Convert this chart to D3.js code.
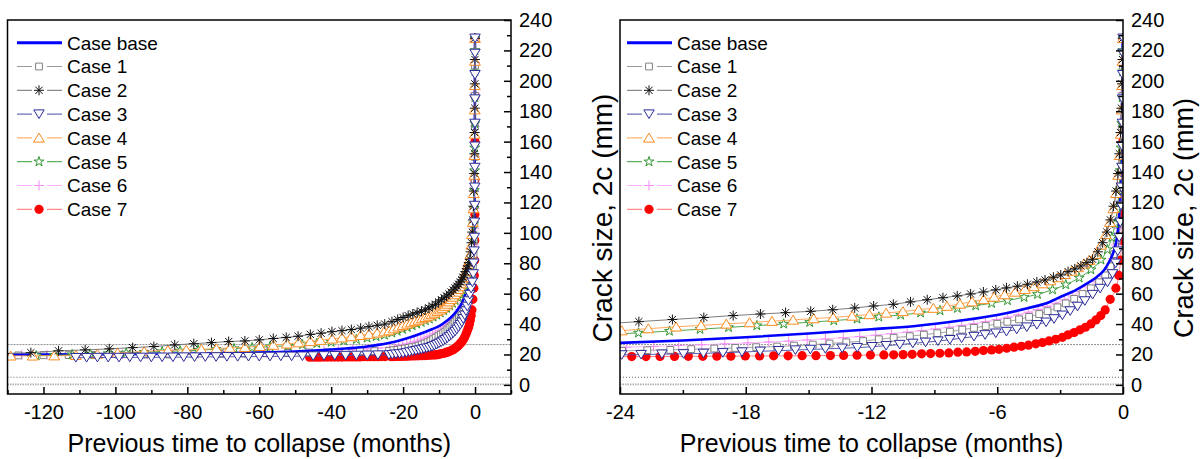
<!DOCTYPE html>
<html>
<head>
<meta charset="utf-8">
<script src="https://cdn.jsdelivr.net/npm/d3@7"></script>
<style>
html, body { margin: 0; padding: 0; background: #fff; }
svg { display: block; font-family: "Liberation Sans", Arial, sans-serif; }
</style>
</head>
<body>
<svg id="chart" width="1200" height="459"></svg>
<script>
// Crack size 2c (mm) against time remaining before collapse (months), one [t, 2c] list per case.
const caseBase = [
  [-135,19.9],[-120,20.0],[-100,20.2],[-85,20.5],[-70,20.9],[-60,21.3],[-50,22.0],[-42,22.9],[-36,23.9],[-30,25.2],[-27,26.3],
  [-24,27.6],[-21,29.2],[-18,31.3],[-15,33.8],[-12,36.6],[-10,38.6],[-7.75,42.3],[-6,46.0],[-4.56,50.4],[-3.5,54.5],[-2.97,58.0],
  [-2.3,62.0],[-1.69,66.9],[-1.25,71.0],[-0.9,75.6],[-0.62,82.0],[-0.42,88.8],[-0.3,96],[-0.2,108],[-0.13,125],[-0.08,150],
  [-0.05,180],[-0.03,205],[-0.015,228]
];
const case1 = [
  [-134,19.3],[-127,19.4],[-120,19.5],[-113,19.6],[-106,19.7],[-99,19.8],[-92,19.9],[-85,20.0],[-78,20.2],[-71,20.4],[-64,20.6],
  [-58,20.8],[-52,21.0],[-46,21.3],[-41,21.5],[-36,21.8],[-32,22.0],[-28,22.2],
  [-23.9,22.4],[-22.7,22.8],[-21.6,23.0],[-20.6,23.5],[-19.5,23.9],[-18.5,24.3],[-17.5,24.8],[-16.5,25.2],[-15.7,25.8],[-14.8,26.5],
  [-14.0,27.2],[-13.2,28.0],[-12.4,28.8],[-11.65,30.0],[-10.94,31.0],[-10.17,32.0],[-9.5,33.0],[-8.86,34.0],[-8.26,35.0],[-7.67,36.3],
  [-7.11,37.5],[-6.55,38.7],[-6.0,40.2],[-5.52,41.5],[-4.96,43.1],[-4.48,44.7],[-4.0,46.6],[-3.6,48.5],[-3.13,51.0],[-2.73,53.6],
  [-2.33,56.6],[-1.93,59.8],[-1.53,63.5],[-1.14,67.5],
  [-0.85,72],[-0.6,78],[-0.42,86],[-0.3,95],[-0.21,106],[-0.15,118],[-0.1,134],[-0.07,150],[-0.045,170],[-0.03,190],[-0.015,210],[-0.005,228]
];
const case2 = [
  [-131,20.6],[-123.5,21.2],[-115.8,22.4],[-108.4,23.0],[-101.7,23.7],[-95.2,24.5],[-89.3,25.2],[-83.5,26.3],[-78.2,27.1],[-73.3,27.8],
  [-68.5,28.5],[-64.0,28.9],[-60.0,29.6],[-56.1,30.5],[-52.5,31.2],[-49.2,32.0],[-45.8,33.2],[-42.8,34.0],[-39.8,35.0],[-37.0,35.7],
  [-34.4,36.4],[-31.8,37.3],[-29.5,38.3],[-27.2,39.2],[-25.1,40.0],
  [-23.1,41.6],[-21.5,43.0],[-20.0,44.3],[-18.6,45.6],[-17.3,46.6],[-16.1,47.5],[-14.9,48.4],[-13.85,49.4],[-12.8,50.6],[-11.9,51.9],
  [-10.96,53.0],[-10.14,54.6],[-9.34,56.0],[-8.59,57.3],[-7.91,58.5],[-7.27,59.8],[-6.66,61.1],[-6.07,62.5],[-5.56,63.8],[-5.04,64.9],
  [-4.56,66.2],[-4.11,67.7],[-3.72,69.0],[-3.32,70.8],[-2.97,72.3],[-2.62,74.5],[-2.3,76.3],[-2.01,78.2],[-1.72,80.4],[-1.45,82.6],
  [-1.2,87.5],[-0.97,93.5],[-0.77,100.5],[-0.6,108.5],[-0.45,117.5],[-0.33,127.5],[-0.24,139],[-0.17,152],[-0.115,166],[-0.075,182],
  [-0.048,198],[-0.028,214],[-0.012,228]
];
const case3 = [
  [-111,17.9],[-108,17.9],[-105,18.0],[-102,18.0],[-99,18.0],[-96,18.1],[-93,18.1],[-90,18.1],[-87,18.2],[-84,18.2],[-81,18.3],
  [-78,18.3],[-75,18.4],[-72,18.4],[-69,18.5],[-66,18.5],[-63,18.6],[-60,18.6],[-57,18.7],[-54,18.8],[-51,18.8],[-48,18.9],
  [-45,19.0],[-42,19.1],[-39,19.2],[-36,19.3],[-33,19.4],[-30,19.5],[-27,19.6],
  [-23.92,19.7],[-22.99,19.9],[-22.0,20.2],[-20.97,20.4],[-20.02,20.7],[-19.09,21.1],[-18.18,21.6],[-17.31,22.1],[-16.43,22.5],
  [-15.63,22.9],[-14.92,23.3],[-14.2,23.7],[-13.4,24.1],[-12.68,24.5],[-11.97,25.1],[-11.3,25.8],[-10.65,26.5],[-10.03,27.3],
  [-9.42,28.0],[-8.83,28.8],[-8.26,29.7],[-7.7,30.7],[-7.11,31.8],[-6.58,32.9],[-6.07,34.0],[-5.56,35.1],[-5.07,36.5],[-4.59,38.0],
  [-4.11,39.6],[-3.67,41.2],[-3.29,43.4],[-2.89,45.8],[-2.52,48.6],[-2.17,51.6],[-1.82,55.2],[-1.45,59.4],[-1.09,63.4],[-0.74,67.5],
  [-0.5,73],[-0.35,80],[-0.25,88],[-0.18,97],[-0.13,107],[-0.095,118],[-0.07,130],[-0.052,143],[-0.038,157],[-0.027,172],
  [-0.018,188],[-0.011,204],[-0.005,218],[0,228]
];
const case4 = [
  [-129.1,19.1],[-123,19.1],[-117,19.2],[-111,19.5],[-105,20.3],[-99.4,21.0],[-92,22.0],[-85.4,22.8],[-80.3,23.0],[-76.1,23.4],
  [-71.9,23.9],[-68.2,24.3],[-64.0,24.7],[-59.8,25.4],[-56.1,26.2],[-52.3,27.0],[-49.1,27.8],[-45.8,28.6],[-43.0,29.4],[-39.7,30.3],
  [-37.0,31.0],[-34.4,31.8],[-31.8,32.6],[-29.5,33.4],[-27.2,34.2],[-25.3,35.0],
  [-23.92,35.7],[-22.65,37.0],[-21.32,38.2],[-20.13,39.1],[-18.93,40.1],[-17.82,41.0],[-16.75,41.9],[-15.74,42.7],[-14.76,43.6],
  [-13.83,44.4],[-12.92,45.3],[-12.1,46.3],[-11.3,47.3],[-10.5,48.3],[-9.75,49.4],[-9.05,50.5],[-8.4,51.8],[-7.78,53.2],[-7.2,54.7],
  [-6.65,56.2],[-6.15,57.8],[-5.65,59.4],[-5.15,61.1],[-4.68,62.9],[-4.25,64.7],[-3.85,66.6],[-3.46,68.6],[-3.1,70.6],[-2.76,72.7],
  [-2.44,74.9],[-2.14,77.2],[-1.86,79.6],[-1.6,82.0],
  [-1.3,86],[-1.05,92],[-0.82,99],[-0.62,107],[-0.46,116],[-0.33,126],[-0.23,138],[-0.16,151],[-0.11,165],[-0.07,181],
  [-0.045,197],[-0.025,213],[-0.01,228]
];
const case5 = [
  [-122,19.2],[-117,19.5],[-112,19.9],[-107,20.3],[-102,20.7],[-97,21.1],[-92,21.5],[-87,21.9],[-82,22.4],[-77,22.9],[-72,23.4],
  [-67,23.9],[-62,24.5],[-57,25.1],[-52,25.8],[-48,26.5],[-44,27.3],[-40,28.1],[-36.5,29.0],[-33,29.9],[-30,30.9],[-27.5,31.8],[-25.2,32.8],
  [-23.12,34.2],[-21.64,35.4],[-20.18,36.6],[-18.82,37.8],[-17.47,39.0],[-16.19,40.1],[-14.95,41.2],[-13.8,42.3],[-12.69,43.4],
  [-11.65,44.7],[-10.61,46.0],[-9.66,47.4],[-8.73,48.9],[-7.9,50.4],[-7.03,52.1],[-6.27,53.7],[-5.51,55.5],[-4.72,57.6],[-4.08,59.6],
  [-3.36,62.6],[-2.73,65.9],[-2.09,70.4],[-1.53,75.8],[-1.05,82.2],
  [-0.75,89],[-0.53,97],[-0.38,106],[-0.27,116],[-0.19,128],[-0.13,141],[-0.09,156],[-0.06,172],[-0.038,189],[-0.022,206],
  [-0.01,220],[-0.003,228]
];
const case6 = [
  [-133,19.6],[-126,19.7],[-119,19.8],[-112,19.9],[-105,20.0],[-98,20.1],[-91,20.2],[-84,20.4],[-77,20.6],[-70,20.8],[-64,21.0],
  [-58,21.3],[-52,21.6],[-47,22.0],[-42,22.4],[-38,22.8],[-34,23.2],[-30,23.7],[-27,24.2],
  [-23.7,24.8],[-22.4,25.3],[-21.2,25.9],[-20.1,26.4],[-19.0,27.0],[-17.9,27.6],[-16.9,28.2],[-15.95,28.8],[-15.07,29.5],[-14.2,30.2],
  [-13.35,31.0],[-12.56,31.8],[-11.8,32.7],[-11.05,33.7],[-10.3,34.7],[-9.6,35.7],[-8.95,36.8],[-8.3,37.9],[-7.7,39.1],[-7.12,40.3],
  [-6.56,41.6],[-6.03,43.0],[-5.5,44.5],[-5.0,46.1],[-4.52,47.8],[-4.06,49.6],[-3.62,51.6],[-3.2,53.7],[-2.8,56.0],[-2.4,58.5],
  [-2.02,61.3],[-1.65,64.4],[-1.3,67.8],[-0.98,71.5],
  [-0.7,76],[-0.48,83],[-0.33,92],[-0.22,103],[-0.15,116],[-0.1,131],[-0.065,150],[-0.04,170],[-0.025,192],[-0.012,212],[-0.004,228]
];
const case7 = [
  [-46,18.2],[-45,18.2],[-44,18.2],[-43,18.2],[-42,18.3],[-41,18.3],[-40,18.3],[-39,18.3],[-38,18.3],[-37,18.3],[-36,18.4],
  [-35,18.4],[-34,18.4],[-33,18.4],[-32,18.4],[-31,18.5],[-30,18.5],[-29,18.5],[-28,18.5],[-27,18.5],[-26,18.6],[-25,18.6],
  [-23.44,18.6],[-22.76,18.6],[-22.09,18.7],[-21.4,18.7],[-20.74,18.8],[-20.05,18.8],[-19.38,18.9],[-18.71,18.9],[-18.02,19.0],
  [-17.34,19.0],[-16.67,19.1],[-15.98,19.1],[-15.31,19.2],[-14.65,19.2],[-13.96,19.3],[-13.33,19.4],[-12.69,19.5],[-12.05,19.6],
  [-11.41,19.7],[-10.94,19.8],[-10.49,19.9],[-10.06,20.1],[-9.61,20.4],[-9.18,20.6],[-8.74,20.8],[-8.31,21.0],[-7.88,21.5],
  [-7.46,21.7],[-7.05,22.1],[-6.66,22.6],[-6.27,23.0],[-5.92,23.4],[-5.55,24.1],[-5.2,24.8],[-4.85,25.4],[-4.51,26.1],[-4.16,27.0],
  [-3.84,27.8],[-3.53,28.9],[-3.21,30.0],[-2.89,31.3],[-2.62,32.9],[-2.33,34.4],[-2.05,36.2],[-1.79,37.9],[-1.53,40.1],[-1.29,42.7],
  [-1.06,45.6],[-0.85,49.3],[-0.61,56.3],[-0.34,63.6],
  [-0.2,72],[-0.12,82],[-0.07,95],[-0.04,112],[-0.022,135],[-0.012,160],[-0.006,190],[-0.002,228]
];

// Horizontal reference levels (mm)
const refLevels = [26.5, 5, 0.3];

// Axis ticks
const yMajorTicks = d3.range(0, 241, 20);
const yMinorTicks = d3.range(10, 240, 20);
const xMajorTicksA = [-120, -100, -80, -60, -40, -20, 0];
const xMinorTicksA = [-130, -110, -90, -70, -50, -30, -10, 10];
const xMajorTicksB = [-24, -18, -12, -6, 0];
const xMinorTicksB = [-21, -15, -9, -3];

const legendNames = ["Case base", "Case 1", "Case 2", "Case 3", "Case 4", "Case 5", "Case 6", "Case 7"];

const xTitle = "Previous time to collapse (months)";
const yTitle = "Crack size, 2c (mm)";

// ---- styles per series ----
const styles = {
  "Case base": {data: caseBase, line: "#0000ff", width: 2.6, marker: null},
  "Case 1": {data: case1, line: "#9a9a9a", width: 0.9, marker: "square", stroke: "#808080", fill: "#fff"},
  "Case 2": {data: case2, line: "#6e6e6e", width: 0.9, marker: "asterisk", stroke: "#111", fill: "none"},
  "Case 3": {data: case3, line: "#4a4aa8", width: 0.9, marker: "triDown", stroke: "#2b2b9a", fill: "#fff"},
  "Case 4": {data: case4, line: "#ffa04d", width: 0.9, marker: "triUp", stroke: "#ff8a1c", fill: "#fff"},
  "Case 5": {data: case5, line: "#3c9c3c", width: 0.9, marker: "star", stroke: "#2f962f", fill: "#fff"},
  "Case 6": {data: case6, line: "#ffb0ff", width: 0.9, marker: "plus", stroke: "#f58cf5", fill: "none"},
  "Case 7": {data: case7, line: "#ff6f6f", width: 0.9, marker: "circle", stroke: "none", fill: "#ff0000"}
};
const drawOrder = ["Case 7", "Case 6", "Case 1", "Case base", "Case 5", "Case 4", "Case 2", "Case 3"];

const starPath = d3.symbol(d3.symbolStar, 30)();
function markerPath(type) {
  switch (type) {
    case "square": return "M-3.4,-3.4H3.4V3.4H-3.4Z";
    case "asterisk": return "M0,-5V5M-5,0H5M-3.6,-3.6L3.6,3.6M-3.6,3.6L3.6,-3.6";
    case "triDown": return "M0,4.4L5.2,-4.2H-5.2Z";
    case "triUp": return "M0,-4.8L5.4,4.2H-5.4Z";
    case "star": return starPath;
    case "plus": return "M-5,0H5M0,-5V5";
    case "circle": return "M4.6,0A4.6,4.6 0 1,1 -4.6,0A4.6,4.6 0 1,1 4.6,0Z";
  }
  return "";
}

const svg = d3.select("#chart");
const TOP = 20, BOTTOM = 394;
const y = d3.scaleLinear().domain([-6, 240]).range([BOTTOM, TOP]);

const panels = [
  {key: "a", left: 7.5, right: 511, domain: [-130, 10], major: xMajorTicksA, minor: xMinorTicksA, legendX: 17},
  {key: "b", left: 620, right: 1123, domain: [-24, 0], major: xMajorTicksB, minor: xMinorTicksB, legendX: 627}
];

panels.forEach(p => {
  const x = d3.scaleLinear().domain(p.domain).range([p.left, p.right]);
  const g = svg.append("g");

  g.append("clipPath").attr("id", "clip-" + p.key)
    .append("rect").attr("x", p.left).attr("y", TOP).attr("width", p.right - p.left).attr("height", BOTTOM - TOP);

  const plot = g.append("g").attr("clip-path", `url(#clip-${p.key})`);

  // reference levels
  const refStyle = [
    {stroke: "#8f8f8f", w: 1, dash: "2,1"},
    {stroke: "#6a6a6a", w: 1, dash: "1,2"},
    {stroke: "#b0b0b0", w: 1.6, dash: "1.5,1"}
  ];
  refLevels.forEach((lv, i) => {
    plot.append("line")
      .attr("x1", p.left).attr("x2", p.right)
      .attr("y1", y(lv)).attr("y2", y(lv))
      .attr("stroke", refStyle[i].stroke).attr("stroke-width", refStyle[i].w)
      .attr("stroke-dasharray", refStyle[i].dash);
  });

  const line = d3.line().x(d => x(d[0])).y(d => y(d[1])).curve(d3.curveMonotoneX);

  drawOrder.forEach(name => {
    const s = styles[name];
    plot.append("path").datum(s.data)
      .attr("d", line).attr("fill", "none")
      .attr("stroke", s.line).attr("stroke-width", s.width);
    if (s.marker) {
      plot.append("g").selectAll("path").data(s.data).join("path")
        .attr("transform", d => `translate(${x(d[0])},${y(d[1])})`)
        .attr("d", markerPath(s.marker))
        .attr("fill", s.fill).attr("stroke", s.stroke).attr("stroke-width", 1);
    }
  });

  // frame
  g.append("rect").attr("x", p.left).attr("y", TOP)
    .attr("width", p.right - p.left).attr("height", BOTTOM - TOP)
    .attr("fill", "none").attr("stroke", "#000").attr("stroke-width", 1.5);

  // bottom axis
  const xAxis = d3.axisBottom(x).tickValues(p.major).tickSizeInner(-7).tickSizeOuter(0)
    .tickPadding(11).tickFormat(d => String(d));
  const xa = g.append("g").attr("transform", `translate(0,${BOTTOM})`).call(xAxis);
  const xMinor = d3.axisBottom(x).tickValues(p.minor).tickSizeInner(-4).tickSizeOuter(0).tickFormat("");
  const xm = g.append("g").attr("transform", `translate(0,${BOTTOM})`).call(xMinor);

  // right axis
  const yAxis = d3.axisRight(y).tickValues(yMajorTicks).tickSizeInner(-7).tickSizeOuter(0)
    .tickPadding(8).tickFormat(d => String(d));
  const ya = g.append("g").attr("transform", `translate(${p.right},0)`).call(yAxis);
  const yMinor = d3.axisRight(y).tickValues(yMinorTicks).tickSizeInner(-4).tickSizeOuter(0).tickFormat("");
  const ym = g.append("g").attr("transform", `translate(${p.right},0)`).call(yMinor);

  [xa, xm, ya, ym].forEach(a => {
    a.select(".domain").remove();
    a.selectAll(".tick line").attr("stroke", "#000").attr("stroke-width", 1.5);
    a.selectAll("text").attr("font-size", 20).attr("fill", "#000")
      .attr("font-family", '"Liberation Sans", Arial, sans-serif');
  });

  // x title
  g.append("text").attr("x", (p.left + p.right) / 2).attr("y", 452)
    .attr("text-anchor", "middle").attr("font-size", 25).attr("fill", "#000").text(xTitle);

  // legend
  legendNames.forEach((name, i) => {
    const s = styles[name];
    const ly = 42.7 + i * 23.8;
    const lx = p.legendX;
    const lg = g.append("g");
    if (!s.marker) {
      lg.append("line").attr("x1", lx).attr("x2", lx + 45).attr("y1", ly).attr("y2", ly)
        .attr("stroke", s.line).attr("stroke-width", 3);
    } else {
      lg.append("line").attr("x1", lx).attr("x2", lx + 15).attr("y1", ly).attr("y2", ly)
        .attr("stroke", s.line).attr("stroke-width", 1);
      lg.append("line").attr("x1", lx + 30).attr("x2", lx + 45).attr("y1", ly).attr("y2", ly)
        .attr("stroke", s.line).attr("stroke-width", 1);
      lg.append("path").attr("transform", `translate(${lx + 22},${ly})`)
        .attr("d", markerPath(s.marker))
        .attr("fill", s.fill).attr("stroke", s.stroke).attr("stroke-width", 1);
    }
    lg.append("text").attr("x", lx + 50).attr("y", ly + 6.8)
      .attr("font-size", 19).attr("fill", "#000").text(name);
  });
});

// y titles
[{cx: 602, size: 28}, {cx: 1184, size: 27}].forEach(t => {
  svg.append("text")
    .attr("transform", `translate(${t.cx},218) rotate(-90)`)
    .attr("text-anchor", "middle").attr("dominant-baseline", "central")
    .attr("font-size", t.size).attr("fill", "#000").text(yTitle);
});
</script>
</body>
</html>
